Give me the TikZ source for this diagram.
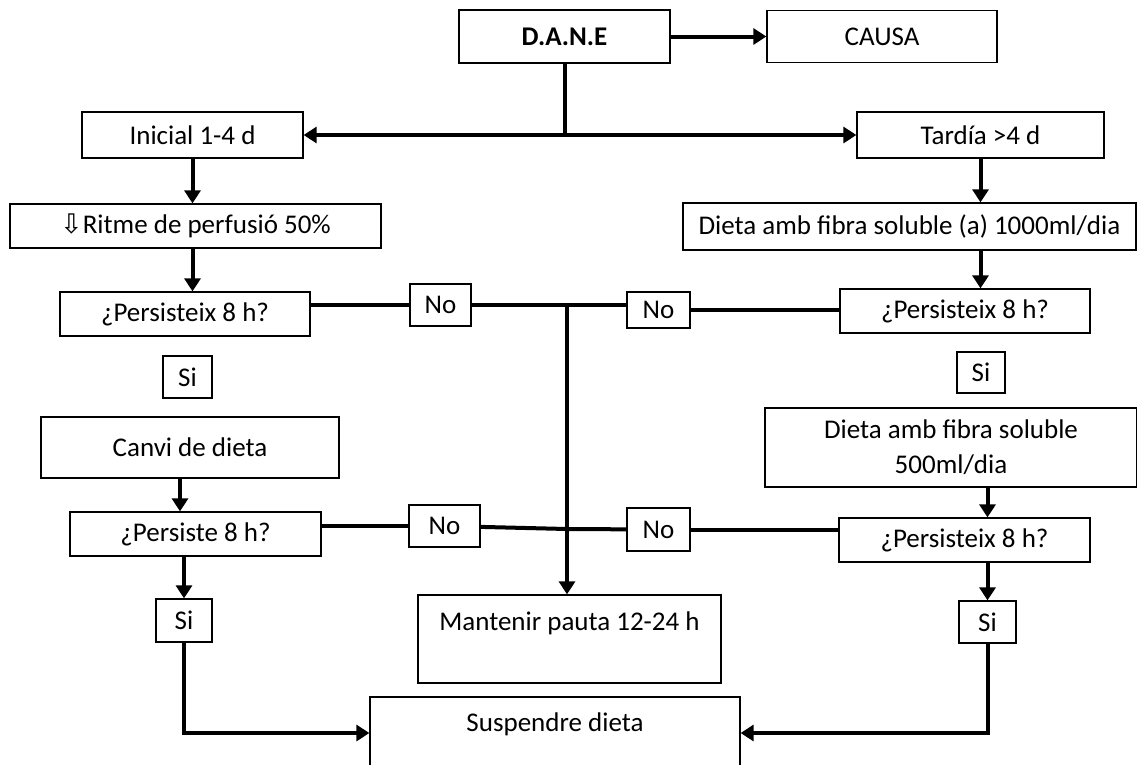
\documentclass[tikz,border=0pt]{standalone}
\usepackage{fontspec}
\setmainfont{Carlito}
\newfontfamily\symfont{DejaVu Sans}
\usetikzlibrary{arrows.meta}

\begin{document}
\begin{tikzpicture}[x=1pt, y=-1pt,
	box/.style={draw, line width=1.3pt, inner sep=0pt, font=\fontsize{27}{35}\selectfont},
	twoline/.style={box, align=center},
	wire/.style={line width=4pt},
	arr/.style={wire, -{Triangle[length=13pt, width=16pt]}}
]

	% \boxat#name#x#y#width#height#text
	\def\boxat#1#2#3#4#5#6{
		\node[box, minimum width=#4pt, minimum height=#5pt] (#1) at (#2, #3) {#6};
	}

	\useasboundingbox (0, 0) rectangle (1137, 764);

	% boxes
	\boxat{dane}{564.5}{36.5}{211}{53}{\textbf{D.A.N.E}}
	\boxat{causa}{882}{36.5}{230}{52}{CAUSA}
	\boxat{inicial}{192.5}{135}{221}{46}{Inicial 1-4 d}
	\boxat{tardia}{980.5}{135}{247}{46}{Tardía >4 d}
	\boxat{ritme}{195.5}{226}{371}{44}{{\symfont ⇩}Ritme de perfusió 50\%}
	\boxat{dietaA}{909.5}{226.5}{453}{47}{Dieta amb fibra soluble (a) 1000ml/dia}
	\boxat{persA}{185}{314}{250}{44}{¿Persisteix 8 h?}
	\boxat{persB}{965}{311}{250}{44}{¿Persisteix 8 h?}
	\boxat{noA}{440.5}{305}{61}{42}{No}
	\boxat{noB}{658.5}{310}{63}{36}{No}
	\boxat{siA}{187.5}{377}{49}{42}{Si}
	\boxat{siB}{981}{372.5}{48}{41}{Si}
	\boxat{canvi}{190}{447.5}{298}{61}{Canvi de dieta}
	\node[twoline, minimum width=372pt, minimum height=79pt] (dietaB) at (951, 447.5) {Dieta amb fibra soluble\\500ml/dia};
	\boxat{persC}{195.5}{534}{251}{44}{¿Persiste 8 h?}
	\boxat{persD}{964.5}{540}{251}{44}{¿Persisteix 8 h?}
	\boxat{noC}{444.5}{526}{71}{42}{No}
	\boxat{noD}{658.5}{529.5}{63}{43}{No}
	\boxat{siC}{184}{620.5}{56}{43}{Si}
	\boxat{siD}{987.5}{622}{57}{42}{Si}
	\node[twoline, minimum width=303pt, minimum height=88pt] (mantenir) at (569.5, 639) {Mantenir pauta 12-24 h\\\mbox{}};
	\node[twoline, minimum width=370pt, minimum height=86pt] (suspendre) at (555, 740) {Suspendre dieta\\\mbox{}};

	% junctions
	\coordinate (split) at (564.5, 135);
	\coordinate (midA) at (567, 305);
	\coordinate (midB) at (567, 529);

	% top
	\draw[arr] (dane) -- (causa);
	\draw[wire] (dane) -- (split);
	\draw[arr] (split) -- (inicial);
	\draw[arr] (split) -- (tardia);

	% left and right columns
	\draw[arr] (inicial.south) -- (inicial.south |- ritme.north);
	\draw[arr] (inicial.south |- ritme.south) -- (inicial.south |- persA.north);
	\draw[arr] (tardia.south) -- (tardia.south |- dietaA.north);
	\draw[arr] (tardia.south |- dietaA.south) -- (tardia.south |- persB.north);
	\draw[arr] ([xshift=-10pt]canvi.south) -- ([xshift=-10pt]canvi.south |- persC.north);
	\draw[arr] (siC.north |- persC.south) -- (siC.north);
	\draw[arr] (siD.north |- dietaB.south) -- (siD.north |- persD.north);
	\draw[arr] (siD.north |- persD.south) -- (siD.north);

	% no branches
	\draw[wire] (persA.east |- noA) -- (noA);
	\draw[wire] (noA) -- (midA) -- (noB.west |- midA);
	\draw[wire] (noB) -- (persB.west |- noB);
	\draw[wire] (persC.east |- noC) -- (noC);
	\draw[wire] (noC) -- (midB) -- (noD);
	\draw[wire] (noD) -- (persD.west |- noD);
	\draw[arr] (midA) -- (midA |- mantenir.north);

	% bottom
	\draw[arr] (siC.south) |- ([yshift=7pt]suspendre.west);
	\draw[arr] (siD.south) |- ([yshift=7pt]suspendre.east);
\end{tikzpicture}
\end{document}
